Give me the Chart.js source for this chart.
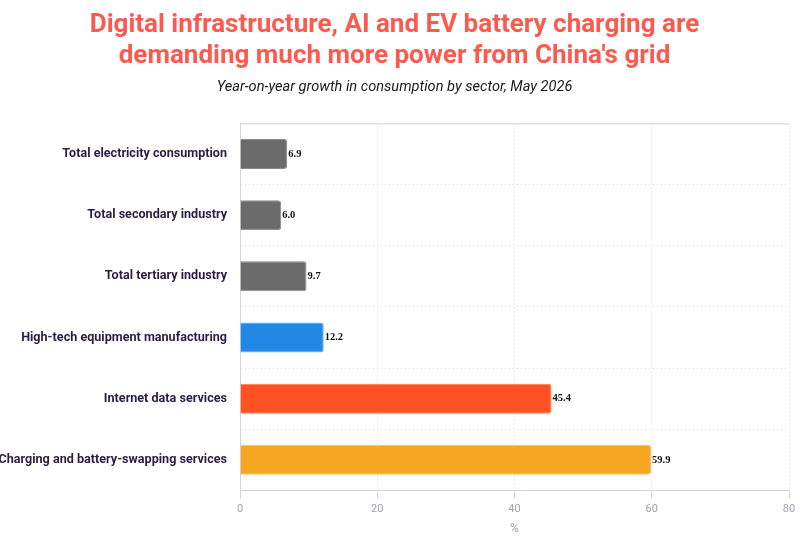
<!DOCTYPE html>
<html>
<head>
<meta charset="utf-8">
<script src="https://cdn.jsdelivr.net/npm/chart.js@4"></script>
<style>
  html, body { margin: 0; padding: 0; background: #ffffff; }
  #wrap { width: 800px; height: 539px; }
</style>
</head>
<body>
<div id="wrap"><canvas id="grafico"></canvas></div>
<script>
// Dados do gráfico
const setores = [
    "Total electricity consumption",
    "Total secondary industry",
    "Total tertiary industry",
    "High-tech equipment manufacturing",
    "Internet data services",
    "Charging and battery-swapping services"
];
const crescimento = [6.9, 6.0, 9.7, 12.2, 45.4, 59.9];
const coresBarras = ["#6b6b6b", "#6b6b6b", "#6b6b6b", "#2188e6", "#ff5122", "#f5a623"];
const coresBorda = ["#8a8a8a", "#8a8a8a", "#8a8a8a", "#5aa6ee", "#ff7a55", "#f8c064"];
const ticksX = [0, 20, 40, 60, 80];

// Rótulos de valor à direita das barras
const rotulosValor = {
    id: "rotulosValor",
    afterDatasetsDraw(chart) {
        const ctx = chart.ctx;
        const meta = chart.getDatasetMeta(0);
        ctx.save();
        ctx.font = "bold 10.5px 'Liberation Serif', serif";
        ctx.fillStyle = "#111111";
        ctx.textAlign = "left";
        ctx.textBaseline = "middle";
        meta.data.forEach((barra, i) => {
            ctx.fillText(crescimento[i].toFixed(1), barra.x + 1, barra.y);
        });
        ctx.restore();
    }
};

// Linha superior da área do gráfico
const bordaTopo = {
    id: "bordaTopo",
    beforeDatasetsDraw(chart) {
        const { ctx, chartArea } = chart;
        ctx.save();
        ctx.strokeStyle = "#d4d4de";
        ctx.lineWidth = 1;
        ctx.beginPath();
        ctx.moveTo(chartArea.left, chartArea.top + 0.5);
        ctx.lineTo(chartArea.right, chartArea.top + 0.5);
        ctx.stroke();
        ctx.restore();
    }
};

new Chart(document.getElementById("grafico").getContext("2d"), {
    type: "bar",
    data: {
        labels: setores,
        datasets: [{
            data: crescimento,
            backgroundColor: coresBarras,
            borderColor: coresBorda,
            borderWidth: 1,
            borderRadius: 3,
            borderSkipped: "left",
            categoryPercentage: 1,
            barPercentage: 0.49
        }]
    },
    options: {
        indexAxis: "y",
        responsive: true,
        maintainAspectRatio: false,
        animation: false,
        layout: { padding: { left: 0, right: 11, top: 0, bottom: 3 } },
        plugins: {
            legend: { display: false },
            tooltip: { enabled: false },
            title: {
                display: true,
                text: [
                    "Digital infrastructure, AI and EV battery charging are",
                    "demanding much more power from China's grid"
                ],
                color: "#fd5a4f",
                font: { family: "Roboto", size: 26, weight: "bold", lineHeight: 1.19 },
                padding: { top: 10, bottom: 7 }
            },
            subtitle: {
                display: true,
                text: "Year-on-year growth in consumption by sector, May 2026",
                color: "#1a1a1a",
                font: { family: "Roboto", size: 14.6, style: "italic", weight: "normal" },
                padding: { top: 0, bottom: 27 }
            }
        },
        scales: {
            x: {
                min: 0,
                max: 80,
                afterBuildTicks: (escala) => {
                    escala.ticks = ticksX.map(v => ({ value: v }));
                },
                grid: {
                    color: "#dcdce4",
                    tickColor: "#d4d4de",
                    tickLength: 8,
                    drawTicks: true
                },
                border: { display: true, color: "#d4d4de", dash: [1, 3] },
                ticks: {
                    color: "#a0a0b0",
                    font: { family: "Roboto", size: 11 },
                    padding: 4
                },
                title: {
                    display: true,
                    text: "%",
                    color: "#a0a0b0",
                    font: { family: "Roboto", size: 12 },
                    padding: { top: 2, bottom: 0 }
                }
            },
            y: {
                afterFit: (escala) => { escala.width = 240; },
                grid: {
                    color: "#dcdce4",
                    drawTicks: false,
                    offset: true
                },
                border: { display: true, color: "#d4d4de", dash: [1, 3] },
                ticks: {
                    color: "#2b1d45",
                    font: { family: "Roboto", size: 12.6, weight: "bold" },
                    padding: 13
                }
            }
        }
    },
    plugins: [rotulosValor, bordaTopo]
});
</script>
</body>
</html>
